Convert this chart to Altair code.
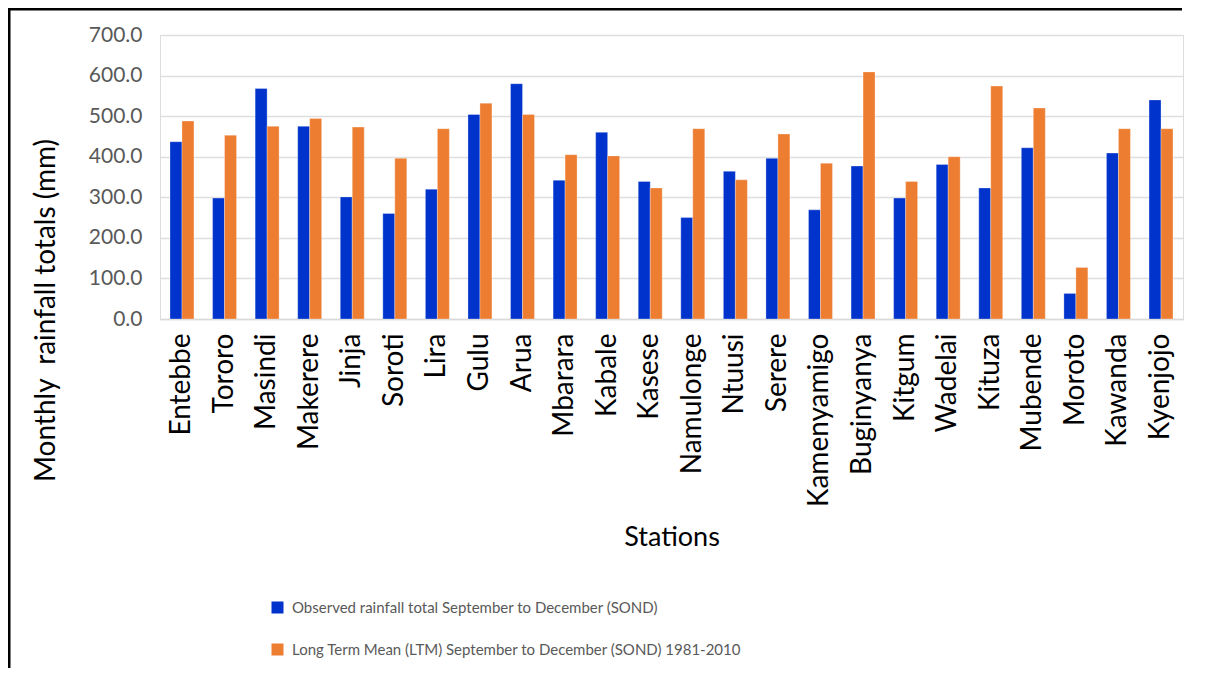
import altair as alt
import pandas as pd

stations = ["Entebbe", "Tororo", "Masindi", "Makerere", "Jinja", "Soroti", "Lira", "Gulu",
            "Arua", "Mbarara", "Kabale", "Kasese", "Namulonge", "Ntuusi", "Serere",
            "Kamenyamigo", "Buginyanya", "Kitgum", "Wadelai", "Kituza", "Mubende",
            "Moroto", "Kawanda", "Kyenjojo"]
observed = [437, 298, 568, 475, 301, 260, 320, 504, 580, 342, 460, 339, 250, 364, 396,
            269, 377, 298, 381, 323, 422, 63, 409, 540]
ltm = [488, 453, 475, 494, 473, 396, 469, 532, 504, 405, 402, 323, 469, 343, 456,
       384, 609, 339, 400, 574, 520, 127, 469, 469]
series_names = ["Observed rainfall total September to December (SOND)",
                "Long Term Mean (LTM) September to December (SOND) 1981-2010"]
series_colors = ["#0033CC", "#ED7D31"]

rows = []
for s, o, l in zip(stations, observed, ltm):
    rows.append({"station": s, "series": series_names[0], "value": o})
    rows.append({"station": s, "series": series_names[1], "value": l})
df = pd.DataFrame(rows)

FONT = "Lato"

bars = alt.Chart(df).mark_bar(stroke="white", strokeWidth=0.6, strokeOpacity=0.5).encode(
    x=alt.X("station:N", sort=stations,
            scale=alt.Scale(paddingInner=0.437, paddingOuter=0.235),
            axis=alt.Axis(title="Stations", labelAngle=270, labelAlign="right",
                          labelBaseline="middle", labelPadding=14, labelFont=FONT,
                          labelFontSize=28, labelColor="black", ticks=False,
                          domainColor="#d9d9d9", domainWidth=1.5, titleFont=FONT, titleFontSize=27,
                          titleFontWeight="normal", titleColor="black",
                          titleY=226, titleBaseline="alphabetic")),
    xOffset=alt.XOffset("series:N", sort=series_names, scale=alt.Scale(paddingInner=0, paddingOuter=0)),
    y=alt.Y("value:Q", scale=alt.Scale(domain=[0, 700], nice=False),
            axis=alt.Axis(title="Monthly\u00a0 rainfall totals (mm)", values=[0, 100, 200, 300, 400, 500, 600, 700],
                          format=".1f", labelFont=FONT, labelFontSize=21, labelColor="#595959",
                          labelPadding=18, ticks=False, domain=False, gridColor="#dedede",
                          gridWidth=1.5, titleFont=FONT, titleFontSize=28,
                          titleFontWeight="normal", titleColor="black",
                          titleX=-114, titleY=275, titleAlign="center", titleBaseline="middle",
                          titleAngle=270)),
    color=alt.Color("series:N", sort=series_names,
                    scale=alt.Scale(domain=series_names, range=series_colors),
                    legend=alt.Legend(title=None, orient="none", legendX=110, legendY=565,
                                      direction="vertical", symbolType="square",
                                      symbolSize=144, symbolStrokeWidth=0,
                                      labelFont=FONT, labelFontSize=15, labelColor="#595959",
                                      rowPadding=26, labelOffset=7, labelLimit=800)),
)

frame_df = pd.DataFrame({"k": [0]})
left_edge = alt.Chart(frame_df).mark_rule(color="black", strokeWidth=3).encode(
    x=alt.value(-151), y=alt.value(-27), y2=alt.value(633))
top_edge = alt.Chart(frame_df).mark_rule(color="black", strokeWidth=3).encode(
    y=alt.value(-26), x=alt.value(-152), x2=alt.value(1022))

chart = alt.layer(bars, left_edge, top_edge).properties(
    width=1023, height=284,
    autosize=alt.AutoSizeParams(type="none"),
    padding={"left": 152, "top": 27, "right": 12, "bottom": 349},
).configure_view(strokeWidth=0).configure(background="white")

chart.save("out.html", embed_options={"renderer": "svg", "actions": False})
